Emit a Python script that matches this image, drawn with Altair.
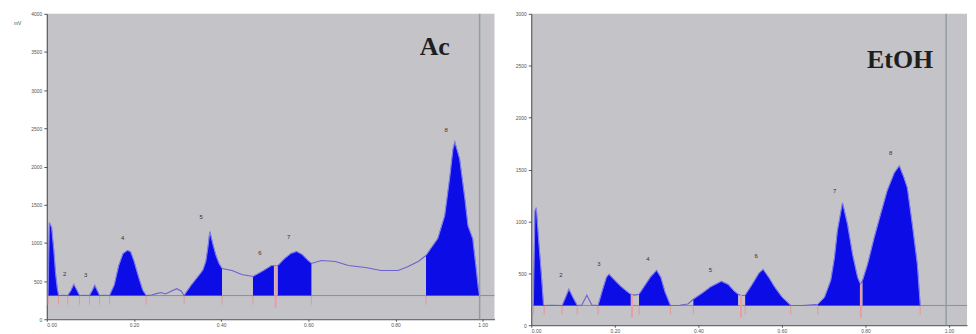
import altair as alt
import pandas as pd

# ---------------- Ac panel (left) ----------------
AC_RF = [0.003, 0.006, 0.011, 0.016, 0.020, 0.024, 0.027, 0.038,
         0.048, 0.055, 0.062, 0.069, 0.075, 0.087,
         0.098, 0.104, 0.110, 0.116, 0.121, 0.132,
         0.144, 0.155, 0.165, 0.175, 0.185, 0.192, 0.200, 0.210, 0.220, 0.228,
         0.240, 0.252, 0.262, 0.272, 0.285, 0.298, 0.308,
         0.315, 0.331, 0.349, 0.358, 0.365, 0.370, 0.374, 0.381, 0.388, 0.395, 0.402,
         0.425, 0.447,
         0.473, 0.495, 0.516, 0.521,
         0.530, 0.545, 0.560, 0.573, 0.585, 0.597, 0.607,
         0.630, 0.662, 0.692, 0.731, 0.767, 0.806, 0.829, 0.852,
         0.870, 0.881, 0.897, 0.913, 0.925, 0.932, 0.936, 0.947, 0.959, 0.966,
         0.977, 0.984, 0.990, 0.993]
AC_VAL = [310, 1264, 1200, 900, 600, 400, 310, 312,
          310, 370, 456, 380, 310, 312,
          310, 370, 443, 370, 310, 312,
          310, 450, 700, 860, 899, 885, 760, 560, 380, 310,
          318, 335, 350, 330, 365, 400, 370,
          310, 443, 573, 640, 756, 950, 1146, 980, 834, 730, 665,
          638, 585,
          560, 630, 704, 704,
          700, 790, 860, 886, 850, 780, 730,
          769, 756, 704, 678, 638, 638, 690, 756,
          834, 925, 1055, 1355, 1876, 2228, 2319, 2098, 1577, 1225,
          1055, 704, 400, 310]
AC_SEG = [1, 1, 1, 1, 1, 1, 1, 0,
          2, 2, 2, 2, 2, 0,
          3, 3, 3, 3, 3, 0,
          4, 4, 4, 4, 4, 4, 4, 4, 4, 4,
          0, 0, 0, 0, 0, 0, 0,
          5, 5, 5, 5, 5, 5, 5, 5, 5, 5, 5,
          0, 0,
          6, 6, 6, 6,
          7, 7, 7, 7, 7, 7, 7,
          0, 0, 0, 0, 0, 0, 0, 0,
          8, 8, 8, 8, 8, 8, 8, 8, 8, 8,
          8, 8, 8, 8]
AC_BASE = 310
AC_LABEL_TXT = ["2", "3", "4", "5", "6", "7", "8"]
AC_LABEL_RF = [0.041, 0.089, 0.174, 0.354, 0.489, 0.555, 0.916]
AC_LABEL_VAL = [586, 573, 1068, 1342, 873, 1081, 2476]
AC_CUT_RF = [0.525]
AC_CUT_TOP = [704]
AC_BOUNDS = [0.003, 0.027, 0.048, 0.075, 0.098, 0.121, 0.144, 0.228,
             0.315, 0.402, 0.473, 0.607, 0.870, 0.993]

# ---------------- EtOH panel (right) ----------------
ET_RF = [0.005, 0.009, 0.012, 0.017, 0.024, 0.029, 0.031, 0.050,
         0.074, 0.082, 0.090, 0.100, 0.110,
         0.121, 0.133, 0.145,
         0.160, 0.170, 0.180, 0.186, 0.200, 0.215, 0.230, 0.238,
         0.248,
         0.258, 0.270, 0.285, 0.300, 0.310, 0.320, 0.333,
         0.355, 0.375,
         0.388, 0.410, 0.430, 0.455, 0.471, 0.485, 0.495,
         0.503,
         0.512, 0.530, 0.545, 0.555, 0.570, 0.583, 0.600, 0.621,
         0.650,
         0.686, 0.702, 0.717, 0.726, 0.733, 0.745, 0.757, 0.769, 0.781, 0.788,
         0.793, 0.805, 0.821, 0.836, 0.852, 0.869, 0.881, 0.892, 0.900, 0.912, 0.924, 0.931]
ET_VAL = [190, 1100, 1131, 843, 489, 201, 190, 192,
          190, 265, 345, 265, 190,
          195, 288, 195,
          190, 330, 460, 489, 430, 370, 320, 297,
          290,
          297, 370, 460, 527, 460, 320, 190,
          192, 205,
          250, 310, 370, 422, 393, 330, 297,
          285,
          288, 400, 500, 537, 450, 364, 270, 190,
          190,
          201, 268, 431, 652, 910, 1179, 968, 680, 460, 393,
          431, 585, 843, 1064, 1294, 1466, 1534, 1420, 1323, 968, 585, 190]
ET_SEG = [1, 1, 1, 1, 1, 1, 1, 0,
          2, 2, 2, 2, 2,
          0, 0, 0,
          3, 3, 3, 3, 3, 3, 3, 3,
          0,
          4, 4, 4, 4, 4, 4, 4,
          0, 0,
          5, 5, 5, 5, 5, 5, 5,
          0,
          6, 6, 6, 6, 6, 6, 6, 6,
          0,
          7, 7, 7, 7, 7, 7, 7, 7, 7, 7,
          8, 8, 8, 8, 8, 8, 8, 8, 8, 8, 8, 8]
ET_BASE = 190
ET_LABEL_TXT = ["2", "3", "4", "5", "6", "7", "8"]
ET_LABEL_RF = [0.071, 0.162, 0.279, 0.429, 0.538, 0.726, 0.860]
ET_LABEL_VAL = [479, 594, 633, 527, 671, 1294, 1658]
ET_CUT_RF = [0.241, 0.502, 0.789]
ET_CUT_TOP = [297, 290, 393]
ET_BOUNDS = [0.005, 0.031, 0.074, 0.110, 0.160, 0.258, 0.333, 0.388,
             0.512, 0.621, 0.686, 0.931]

X_TICKS = [0.0, 0.2, 0.4, 0.6, 0.8, 1.0]
AC_Y_TICKS = [0, 500, 1000, 1500, 2000, 2500, 3000, 3500, 4000]
ET_Y_TICKS = [0, 500, 1000, 1500, 2000, 2500, 3000]
SCAN_END = 0.993


def panel(rf, val, seg, base, lab_txt, lab_rf, lab_val, cut_rf, cut_top, bounds,
          xdom, ydom, yticks, width, height, name, name_rf, name_val, tick_len, mv):
    df = pd.DataFrame({"rf": rf, "val": val, "seg": seg, "ord": list(range(len(rf)))})
    df["base"] = base
    x = alt.X("rf:Q", scale=alt.Scale(domain=xdom, nice=False, zero=False),
              axis=alt.Axis(values=X_TICKS, format=".2f", title=None, tickSize=2, labelPadding=1))
    y = alt.Y("val:Q", scale=alt.Scale(domain=ydom, nice=False, zero=False),
              axis=alt.Axis(values=yticks, format="d", title=None))
    ya = alt.Y("val:Q", scale=alt.Scale(domain=ydom, nice=False, zero=False),
               axis=alt.Axis(values=yticks, format="d", title=None), stack=None)

    base_rule = alt.Chart(pd.DataFrame({"val": [base]})).mark_rule(
        color="#8e8e92", strokeWidth=1).encode(y=y)
    bdf = pd.DataFrame({"rf": bounds, "val": [base] * len(bounds),
                        "low": [base - tick_len] * len(bounds)})
    bticks = alt.Chart(bdf).mark_rule(color="#e09a9a", strokeWidth=1).encode(
        x=x, y=y, y2="low:Q")
    trace = alt.Chart(df).mark_line(color="#6b62d0", strokeWidth=1.1).encode(
        x=x, y=y, order="ord:Q")
    area = alt.Chart(df).transform_filter("datum.seg > 0").mark_area(
        color="#0c0ce6", opacity=1,
        line={"color": "#8a8af5", "strokeWidth": 0.9}).encode(
        x=x, y=ya, y2="base:Q", detail="seg:N")
    cdf = pd.DataFrame({"rf": cut_rf, "val": cut_top, "low": [base - tick_len * 1.3] * len(cut_rf)})
    cuts = alt.Chart(cdf).mark_rule(color="#ec9aa6", strokeWidth=2).encode(
        x=x, y=y, y2="low:Q")
    vline = alt.Chart(pd.DataFrame({"rf": [SCAN_END]})).mark_rule(
        color="#8fa0a4", strokeWidth=1.5).encode(x=x)
    ldf = pd.DataFrame({"rf": lab_rf, "val": lab_val, "t": lab_txt})
    labels = alt.Chart(ldf).mark_text(fontSize=6, color="#3a2f2f", font="Liberation Sans").encode(
        x=x, y=y, text="t:N")
    ndf = pd.DataFrame({"rf": [name_rf], "val": [name_val], "t": [name]})
    title = alt.Chart(ndf).mark_text(fontSize=26, fontWeight="bold", font="Liberation Serif",
                                     color="#1e1e1e").encode(x=x, y=y, text="t:N")
    layers = [base_rule, bticks, trace, area, cuts, vline, labels, title]
    if mv:
        mdf = pd.DataFrame({"t": ["mV"]})
        layers.append(alt.Chart(mdf).mark_text(fontSize=5, color="#555555", align="left",
                                               font="Liberation Sans").encode(
            x=alt.value(-33), y=alt.value(9), text="t:N"))
    return alt.layer(*layers).properties(width=width, height=height)


left = panel(AC_RF, AC_VAL, AC_SEG, AC_BASE, AC_LABEL_TXT, AC_LABEL_RF, AC_LABEL_VAL,
             AC_CUT_RF, AC_CUT_TOP, AC_BOUNDS, [0, 1.027], [0, 4000], AC_Y_TICKS,
             450, 307, "Ac", 0.890, 3560, 120, True)
right = panel(ET_RF, ET_VAL, ET_SEG, ET_BASE, ET_LABEL_TXT, ET_LABEL_RF, ET_LABEL_VAL,
              ET_CUT_RF, ET_CUT_TOP, ET_BOUNDS, [0, 1.043], [0, 3000], ET_Y_TICKS,
              438, 313, "EtOH", 0.883, 2550, 90, False)

chart = alt.hconcat(left, right, spacing=19).properties(
    padding={"left": 6, "top": 3, "right": 0, "bottom": 0},
    background="white"
).configure_view(fill="#c4c3c7", stroke=None).configure_axis(
    labelFontSize=5, labelColor="#555555", tickSize=3, tickColor="#555555",
    domainColor="#4a4a4a", domainWidth=1, grid=False, labelPadding=2,
    labelFont="Liberation Sans"
)

chart.save("out.html", embed_options={"renderer": "svg", "actions": False})
